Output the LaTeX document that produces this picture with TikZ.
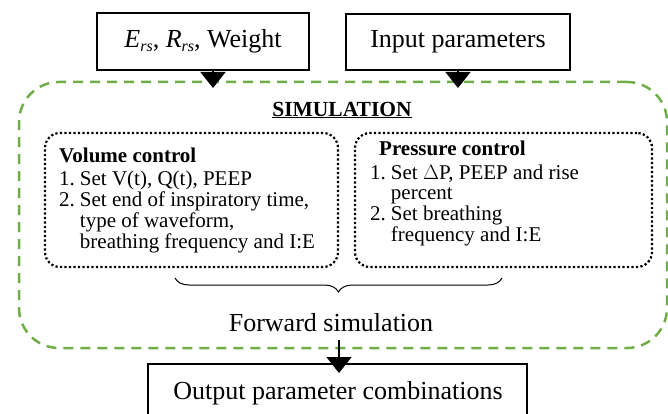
\documentclass[tikz,border=0pt]{standalone}
\usepackage{fontspec}
\setmainfont{Liberation Serif}
\usetikzlibrary{arrows.meta,decorations.pathreplacing,calc}
\definecolor{simgreen}{RGB}{112,173,71}
\newcommand{\itemnum}[1]{#1.\hspace{5pt}}
\begin{document}
\begin{tikzpicture}[x=1pt,y=-1pt,
  inbox/.style={draw, line width=1.5pt, inner sep=0pt, font=\fontsize{26}{30}\selectfont},
  flow/.style={line width=1.5pt, -{Triangle[width=25pt,length=16pt]}},
  simarea/.style={draw=simgreen, line width=2.5pt, dash pattern=on 10pt off 7pt, rounded corners=40pt, inner sep=0pt},
  ctrlbox/.style={draw, line width=2.2pt, dash pattern=on 2.2pt off 2.3pt, rounded corners=15pt, inner sep=0pt},
  ctrltext/.style={anchor=base west, inner sep=0pt, font=\fontsize{21}{20.3}\selectfont},
  big/.style={font=\fontsize{26}{30}\selectfont, inner sep=0pt}]

\useasboundingbox (0,0) rectangle (668,414);

% input boxes
\node[inbox, minimum width=212pt, minimum height=57pt] (er) at (203,41.5)
  {{\itshape E}\raisebox{-0.35ex}{\fontsize{16}{16}\selectfont\itshape rs}, {\itshape R}\raisebox{-0.35ex}{\fontsize{16}{16}\selectfont\itshape rs}, Weight};
\node[inbox, minimum width=224pt, minimum height=56pt] (ip) at (458,42) {Input parameters};

% simulation area
\node[simarea, minimum width=648pt, minimum height=266pt] (sim) at (343,215) {};
\node[font=\fontsize{21.5}{24}\selectfont\bfseries, inner sep=0pt] (title) at (342,110) {\underline{SIMULATION}};

% control modes
\node[ctrlbox, minimum width=293pt, minimum height=134pt] (vc) at (191.5,200) {};
\node[ctrlbox, minimum width=297pt, minimum height=134pt] (pc) at (503.5,200) {};

\node[ctrltext] (vctext) at (59,162) {%
  \begin{tabular}[t]{@{}l@{}l@{}}
  \multicolumn{2}{@{}l@{}}{\textbf{Volume control}}\\[3pt]
  \itemnum{1} & Set V(t), Q(t), PEEP\\
  \itemnum{2} & Set end of inspiratory time,\\
      & type of waveform,\\
      & breathing frequency and I:E
  \end{tabular}};
\node[ctrltext] (pctext) at (370,156) {%
  \begin{tabular}[t]{@{}l@{}l@{}}
  \multicolumn{2}{@{}l@{}}{\hspace{9pt}\textbf{Pressure control}}\\[3pt]
  \itemnum{1} & Set $\Delta$P, PEEP and rise\\
      & percent\\
  \itemnum{2} & Set breathing\\
      & frequency and I:E
  \end{tabular}};

% brace and label
\coordinate (bl) at (175,278);
\coordinate (br) at (502,278);
\draw[line width=1pt, decorate, decoration={brace, mirror, amplitude=14pt}] (bl) -- (br);
\node[big] (fw) at (331,323) {Forward simulation};

% output box
\node[inbox, minimum width=379pt, minimum height=56pt, anchor=north] (out) at (337.5,363) {};
\node[big] (outtext) at (338,393) {Output parameter combinations};

% connectors
\coordinate (a1) at (213,88);
\coordinate (a2) at (458,88);
\coordinate (s3) at (339,340);
\coordinate (a3) at (339,373);
\draw[flow] (er.south -| a1) -- (a1);
\draw[flow] (ip.south) -- (a2);
\draw[flow] (s3) -- (a3);
\end{tikzpicture}
\end{document}
